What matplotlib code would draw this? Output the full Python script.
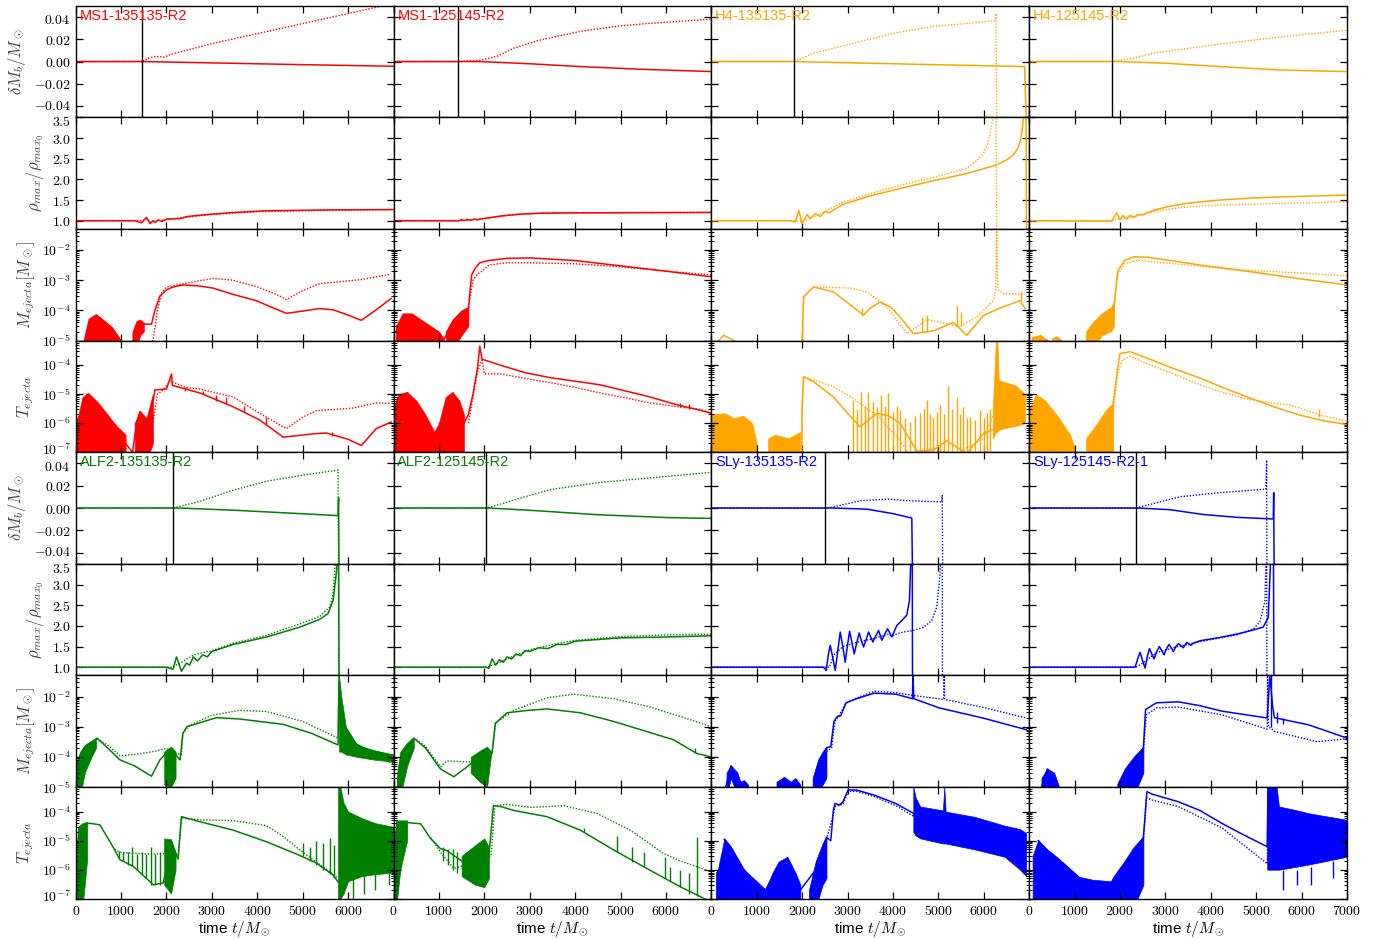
"""Baryon mass, max density and ejecta diagnostics for 8 BNS runs (4x2 grid of 4-row stacks)."""

import numpy as np
import matplotlib
matplotlib.use("Agg")
import matplotlib.pyplot as plt
from matplotlib.transforms import ScaledTranslation
from matplotlib.ticker import FixedLocator, FuncFormatter, LogLocator, NullFormatter

plt.rcParams["font.family"] = ["Liberation Sans", "DejaVu Sans"]
plt.rcParams["mathtext.fontset"] = "cm"

# ---------------------------------------------------------------- data
# every curve is a list of (t, value);
# bands are (t, low, high) envelopes of the noisy parts; spikes are (t, low, high)

# ---- MS1-135135-R2
ms1_a_merge = 1470
ms1_a_dm_s = [(0, 0), (1470, 0), (3000, -0.0012), (5000, -0.0028), (7000, -0.0042)]
ms1_a_dm_d = [(0, 0), (1470, 0), (1600, 0.003), (1750, 0.0045), (1950, 0.004), (2100, 0.0065),
              (3000, 0.016), (4000, 0.025), (5000, 0.034), (6000, 0.043), (6770, 0.05), (7000, 0.052)]
ms1_a_rho_s = [(0, 1.0), (1300, 1.0), (1450, 0.95), (1560, 1.08), (1640, 0.93), (1700, 1.0), (1760, 0.96),
               (1820, 1.02), (1900, 0.98), (2000, 1.04), (2300, 1.05), (2450, 1.1), (2700, 1.13), (3000, 1.16),
               (3500, 1.2), (4200, 1.24), (5500, 1.26), (7000, 1.27)]
ms1_a_rho_d = [(0, 1.0), (1470, 1.0), (1560, 1.05), (1650, 0.95), (1800, 1.0), (2000, 1.03), (2400, 1.08),
               (3000, 1.15), (4000, 1.22), (5500, 1.25), (7000, 1.27)]
ms1_a_mej_s = [(150, 5e-6), (300, 5e-5), (450, 7e-5), (600, 4.5e-5), (800, 2.5e-5), (1000, 1e-5), (1100, 5e-6),
               (1250, 8e-6), (1340, 3e-5), (1420, 4e-5), (1500, 3.5e-5), (1670, 3.5e-5), (1745, 1e-4),
               (1855, 3e-4), (2000, 4.8e-4), (2145, 6e-4), (2365, 7e-4), (2700, 6.5e-4), (3025, 5.5e-4),
               (3465, 3.4e-4), (3980, 2.1e-4), (4300, 1.3e-4), (4640, 8e-5), (5000, 9.5e-5), (5375, 1.15e-4),
               (5665, 1.05e-4), (6000, 7e-5), (6290, 4.7e-5), (6600, 1e-4), (6950, 2.5e-4)]
ms1_a_mej_d = [(1600, 5e-6), (1700, 1e-5), (1750, 3e-5), (1800, 1e-4), (1900, 4e-4), (2000, 6e-4),
               (2440, 8e-4), (2700, 9.5e-4), (3030, 1.15e-3), (3465, 1e-3), (4000, 6e-4), (4400, 3.5e-4),
               (4640, 2.3e-4), (5000, 4.5e-4), (5375, 7.8e-4), (5665, 8.5e-4), (6290, 1.05e-3), (6950, 1.6e-3)]
ms1_a_mej_band = [[(200, 5e-6, 1.5e-5), (300, 5e-6, 5e-5), (450, 5e-6, 7.5e-5), (600, 5e-6, 5e-5),
                   (800, 5e-6, 2.8e-5), (950, 5e-6, 1.3e-5)],
                  [(1250, 5e-6, 2e-5), (1340, 5e-6, 4.5e-5), (1420, 1.5e-5, 5e-5), (1500, 2e-5, 4e-5)]]
ms1_a_tej_s = [(0, 1e-6), (100, 2e-6), (250, 1e-5), (500, 3e-6), (700, 1e-6), (900, 4e-7), (1100, 2e-7),
               (1250, 1e-7), (1340, 1e-6), (1415, 2.5e-6), (1500, 1.5e-6), (1635, 1.2e-6), (1745, 1.4e-5),
               (2000, 1.5e-5), (2112, 5e-5), (2130, 2e-5), (2735, 1.1e-5), (3465, 3.7e-6), (4050, 1.3e-6),
               (4570, 3.3e-7), (5300, 4.4e-7), (5520, 4.6e-7), (6000, 2.8e-7), (6290, 1.7e-7), (6620, 6.5e-7),
               (6950, 1.1e-6)]
ms1_a_tej_d = [(1600, 1e-7), (1700, 1e-6), (1800, 1e-5), (1930, 1.4e-5), (2075, 2.8e-5), (2440, 1.7e-5),
               (2735, 1.5e-5), (3465, 8e-6), (4050, 2.2e-6), (4640, 6.5e-7), (5000, 1.6e-6), (5300, 2.7e-6),
               (6100, 3.3e-6), (6620, 5e-6), (6950, 4.8e-6)]
ms1_a_tej_band = [[(20, 5e-8, 1e-6), (150, 5e-8, 8e-6), (280, 5e-8, 1.1e-5), (500, 5e-8, 5e-6),
                   (700, 5e-8, 2e-6), (900, 5e-8, 8e-7), (1100, 5e-8, 4e-7)],
                  [(1300, 5e-8, 1e-6), (1415, 5e-8, 2.6e-6), (1560, 5e-8, 1.5e-6), (1700, 2e-7, 1e-5)]]
ms1_a_tej_spk = [(2400, 1.3e-5, 1.7e-5), (2800, 1e-5, 1.3e-5), (3100, 6e-6, 9e-6), (3300, 4.5e-6, 8e-6),
                 (3700, 2.5e-6, 4e-6), (4200, 9e-7, 1.6e-6), (5650, 3.5e-7, 5e-7)]

# ---- MS1-125145-R2
ms1_b_merge = 1424
ms1_b_dm_s = [(0, 0), (1900, 0), (3000, -0.002), (4114, -0.0045), (5500, -0.007), (7000, -0.009)]
ms1_b_dm_d = [(0, 0), (1424, 0), (1900, 0.001), (2300, 0.005), (2650, 0.012), (3200, 0.019), (4114, 0.027),
              (5000, 0.032), (5580, 0.034), (7000, 0.038)]
ms1_b_rho_s = [(0, 1.0), (1350, 1.0), (1420, 0.99), (1500, 1.03), (1560, 1.0), (1630, 1.03), (1700, 1.01),
               (1780, 1.04), (1850, 1.02), (1950, 1.05), (2100, 1.07), (2400, 1.12), (2800, 1.16),
               (3200, 1.18), (4000, 1.19), (7000, 1.2)]
ms1_b_rho_d = [(0, 1.0), (1424, 1.0), (1600, 1.01), (1800, 1.03), (2000, 1.05), (2400, 1.11), (2800, 1.16),
               (3500, 1.19), (7000, 1.2)]
ms1_b_mej_s = [(50, 2e-5), (300, 7e-5), (700, 3e-5), (1100, 1e-5), (1300, 4e-5), (1500, 9e-5), (1650, 1.2e-4),
               (1720, 1.5e-3), (1800, 2.5e-3), (1900, 3.8e-3), (2100, 4.5e-3), (2500, 5.3e-3), (3000, 5.5e-3),
               (4000, 4.5e-3), (5000, 3e-3), (6000, 2e-3), (7000, 1.3e-3)]
ms1_b_mej_d = [(1650, 1.2e-4), (1750, 1e-3), (1850, 1.6e-3), (1950, 2e-3), (2100, 3.2e-3), (2500, 3.8e-3),
               (3000, 3.8e-3), (4000, 3.5e-3), (5000, 2.8e-3), (6000, 2e-3), (7000, 1.5e-3)]
ms1_b_mej_band = [[(50, 5e-6, 3e-5), (200, 5e-6, 8e-5), (400, 5e-6, 8e-5), (700, 5e-6, 4e-5),
                   (1000, 5e-6, 2e-5), (1100, 5e-6, 1.2e-5)],
                  [(1150, 5e-6, 2e-5), (1300, 5e-6, 5e-5), (1500, 1.5e-5, 1e-4), (1650, 3e-5, 1.3e-4)]]
ms1_b_tej_s = [(0, 1e-6), (300, 8e-6), (600, 2e-6), (900, 3e-7), (1100, 2e-6), (1300, 8e-6), (1550, 1e-6),
               (1650, 2e-6), (1750, 1e-5), (1850, 8e-5), (1900, 4.5e-4), (1950, 1.6e-4), (2350, 1e-4),
               (2900, 5.5e-5), (3450, 3.7e-5), (4000, 2.8e-5), (4550, 2.1e-5), (5100, 1.3e-5), (5650, 8e-6),
               (6200, 4.5e-6), (6750, 2.8e-6), (7000, 2.2e-6)]
ms1_b_tej_d = [(1650, 1e-6), (1750, 8e-6), (1850, 6e-5), (1950, 1.5e-4), (2000, 5e-5), (2350, 5e-5),
               (2900, 3.5e-5), (3450, 2.5e-5), (4000, 1.7e-5), (4550, 1.1e-5), (5100, 7.5e-6), (5650, 5e-6),
               (6200, 3.8e-6), (6750, 3e-6), (7000, 2.2e-6)]
ms1_b_tej_band = [[(0, 5e-8, 3e-6), (100, 5e-8, 1e-5), (300, 5e-8, 1.2e-5), (500, 5e-8, 6e-6),
                   (700, 5e-8, 2e-6), (900, 5e-8, 5e-7), (1000, 5e-8, 1e-6), (1150, 5e-8, 8e-6),
                   (1300, 5e-8, 1.2e-5), (1450, 5e-8, 6e-6), (1550, 5e-8, 2e-6)]]
ms1_b_tej_spk = [(6300, 3.5e-6, 5e-6), (6500, 3e-6, 4.5e-6)]

# ---- H4-135135-R2
h4_a_merge = 1811
h4_a_dm_s = [(0, 0), (1811, 0), (4000, -0.002), (6900, -0.0045), (6940, -0.06)]
h4_a_dm_d = [(0, 0), (1811, 0), (2000, 0.003), (2250, 0.0075), (2800, 0.013), (3424, 0.0195), (4100, 0.026),
             (4890, 0.0315), (5600, 0.034), (6248, 0.0366), (6270, 0.043), (6285, -0.06)]
h4_a_rho_s = [(0, 1.0), (1740, 1.0), (1850, 0.97), (1925, 1.25), (2000, 0.93), (2110, 1.15), (2180, 1.05),
              (2290, 1.17), (2400, 1.1), (2500, 1.22), (2600, 1.2), (2910, 1.4), (3500, 1.6), (4158, 1.78),
              (4900, 1.97), (5625, 2.14), (6285, 2.35), (6500, 2.47), (6651, 2.59), (6750, 2.75),
              (6800, 2.92), (6835, 3.11), (6860, 3.35), (6880, 3.6), (6930, 3.6), (6940, 0.7)]
h4_a_rho_d = [(0, 1.0), (1811, 1.0), (2000, 0.98), (2300, 1.12), (2910, 1.45), (3500, 1.65), (4158, 1.86),
              (4900, 2.05), (5625, 2.27), (5850, 2.45), (5992, 2.63), (6080, 2.85), (6138, 3.11), (6190, 3.4),
              (6211, 3.6), (6270, 3.6), (6285, 0.7)]
h4_a_mej_s = [(100, 8e-6), (270, 1.5e-5), (550, 9e-6), (1990, 5e-6), (2000, 1e-5), (2030, 2.8e-4),
              (2250, 6e-4), (2690, 4.1e-4), (3000, 1.8e-4), (3350, 7e-5), (3500, 1.2e-4), (3718, 1.9e-4),
              (3950, 1.3e-4), (4158, 6e-5), (4451, 1.7e-5), (4890, 2.1e-5), (5332, 4e-5), (5625, 1.5e-5),
              (5992, 6.8e-5), (6358, 1.2e-4), (6798, 2.1e-4), (6908, 1.15e-4)]
h4_a_mej_d = [(1990, 5e-6), (2010, 1e-5), (2040, 3e-4), (2250, 6e-4), (3058, 5.5e-4), (3424, 4.1e-4),
              (3865, 1.3e-4), (4305, 1.7e-5), (4745, 5e-5), (5185, 3.6e-5), (5478, 3e-5), (5845, 6e-5),
              (6211, 2.1e-4), (6260, 5e-4), (6285, 5e-2), (6310, 5e-4), (6432, 3.6e-4), (6908, 3.5e-4)]
h4_a_mej_spk = [(3320, 7e-5, 1.2e-4), (4650, 2e-5, 6e-5), (4750, 2e-5, 7e-5), (5400, 3e-5, 1.5e-4),
                (5500, 3e-5, 9e-5), (6830, 2e-4, 4e-4)]
h4_a_tej_s = [(1990, 1e-7), (2000, 4e-6), (2030, 4e-5), (2250, 2.7e-5), (2690, 8e-6), (3000, 2.2e-6),
              (3277, 7.5e-7), (3645, 2.2e-6), (3900, 1.8e-6), (4158, 1e-6), (4525, 1.1e-7), (4890, 1.2e-7),
              (5185, 2.5e-7), (5625, 9e-8), (5992, 4.4e-7), (6358, 7.6e-7), (6800, 1e-6), (6908, 1.5e-6)]
h4_a_tej_d = [(1990, 1e-7), (2010, 5e-6), (2040, 4e-5), (2690, 1.8e-5), (3130, 7e-6), (3718, 1.5e-6),
              (4158, 2.5e-7), (4350, 9e-8), (4700, 9e-8), (4890, 1.3e-7), (5050, 1.1e-7), (5400, 9e-8),
              (6000, 3e-7), (6211, 2e-6), (6285, 7e-4)]
h4_a_tej_band = [[(0, 5e-8, 2e-6), (300, 5e-8, 2.2e-6), (500, 5e-8, 1.5e-6), (700, 5e-8, 1.8e-6),
                  (900, 5e-8, 1e-6), (1000, 5e-8, 2e-7)],
                 [(1250, 5e-8, 3e-7), (1400, 5e-8, 4e-7), (1700, 5e-8, 3e-7), (1950, 5e-8, 5e-7)],
                 [(6200, 3e-7, 3e-6), (6270, 5e-7, 7e-4), (6300, 5e-7, 7e-4), (6330, 6e-7, 3e-5),
                  (6500, 7e-7, 2.5e-5), (6700, 8e-7, 2e-5), (6908, 1e-6, 1e-5)]]
h4_a_tej_spk = [(3130, 5e-8, 6.3e-6), (3200, 5e-8, 3e-6), (3300, 5e-8, 1.2e-5), (3380, 5e-8, 4e-6),
                (3450, 5e-8, 1.2e-5), (3550, 5e-8, 5.5e-6), (3640, 5e-8, 3.5e-6), (3740, 5e-8, 9.5e-6),
                (3820, 5e-8, 4e-6), (3900, 5e-8, 1.1e-5), (4000, 5e-8, 2.5e-6), (4080, 5e-8, 4e-6),
                (4150, 5e-8, 2.8e-6), (4260, 5e-8, 1.5e-6), (4370, 5e-8, 1.1e-6), (4480, 5e-8, 1.8e-6),
                (4600, 5e-8, 2.2e-6), (4680, 5e-8, 3e-6), (4750, 5e-8, 6.3e-6), (4820, 5e-8, 2e-6),
                (4890, 5e-8, 1.7e-6), (4960, 5e-8, 2.5e-6), (5040, 5e-8, 4.2e-6), (5130, 5e-8, 2e-6),
                (5220, 5e-8, 1.9e-5), (5300, 5e-8, 3e-6), (5400, 5e-8, 8.3e-6), (5470, 5e-8, 2e-6),
                (5540, 5e-8, 3.7e-6), (5620, 5e-8, 1.5e-6), (5700, 5e-8, 1.7e-6), (5800, 5e-8, 1.3e-6),
                (5920, 5e-8, 2.8e-6), (6000, 5e-8, 1.5e-6), (6060, 5e-8, 2.2e-6), (6140, 5e-8, 3e-6)]

# ---- H4-125145-R2
h4_b_merge = 1818
h4_b_dm_s = [(0, 0), (2000, 0), (3000, -0.0015), (4202, -0.0045), (5500, -0.0075), (7000, -0.009)]
h4_b_dm_d = [(0, 0), (1818, 0), (2300, 0.003), (2735, 0.0075), (4202, 0.0157), (5668, 0.0226), (7000, 0.028)]
h4_b_rho_s = [(0, 1.0), (1818, 0.99), (1928, 1.19), (2000, 1.02), (2070, 1.13), (2140, 1.04), (2230, 1.13),
              (2300, 1.08), (2400, 1.15), (2500, 1.14), (2735, 1.25), (3100, 1.35), (3468, 1.42), (4202, 1.5),
              (4900, 1.55), (5668, 1.58), (7000, 1.62)]
h4_b_rho_d = [(0, 1.0), (1818, 1.0), (2000, 1.05), (2300, 1.1), (2735, 1.22), (3200, 1.3), (3700, 1.35),
              (4202, 1.38), (5668, 1.42), (7000, 1.46)]
h4_b_mej_s = [(100, 8e-6), (250, 1.5e-5), (400, 9e-6), (1250, 8e-6), (1500, 3e-5), (1800, 8e-5),
              (1870, 1.5e-4), (1950, 2e-3), (2100, 4.5e-3), (2300, 6e-3), (2600, 5.8e-3), (3200, 4.3e-3),
              (3760, 3.2e-3), (4400, 2.4e-3), (5000, 1.8e-3), (6000, 1.1e-3), (7000, 7e-4)]
h4_b_mej_d = [(1870, 1.5e-4), (1950, 1.5e-3), (2100, 3.5e-3), (2400, 4.6e-3), (2800, 4e-3), (3760, 2.9e-3),
              (4400, 2.3e-3), (5500, 1.9e-3), (7000, 1.4e-3)]
h4_b_mej_band = [[(50, 5e-6, 1.3e-5), (200, 5e-6, 1.5e-5), (400, 5e-6, 1.1e-5)],
                 [(500, 5e-6, 1.2e-5), (600, 5e-6, 1.4e-5), (700, 5e-6, 1.1e-5)],
                 [(1250, 5e-6, 2e-5), (1400, 5e-6, 4e-5), (1600, 1.5e-5, 8e-5), (1800, 2e-5, 1.3e-4),
                  (1870, 3e-5, 2e-4)]]
h4_b_tej_s = [(1850, 5e-6), (1950, 8e-5), (2000, 2.5e-4), (2222, 2.9e-4), (2500, 2e-4), (3100, 8.5e-5),
              (3760, 3.6e-5), (4300, 1.6e-5), (4860, 7.4e-6), (5400, 3.6e-6), (5960, 1.9e-6), (6500, 1.2e-6),
              (7000, 9e-7)]
h4_b_tej_d = [(1850, 3e-6), (1950, 5e-5), (2050, 1.5e-4), (2222, 2e-4), (2500, 1.3e-4), (3100, 5.5e-5),
              (3760, 2.1e-5), (4300, 1.1e-5), (4860, 6.5e-6), (5300, 5e-6), (5740, 4.3e-6), (6400, 1.9e-6),
              (7000, 1.2e-6)]
h4_b_tej_band = [[(0, 5e-8, 3e-6), (150, 5e-8, 1e-5), (350, 5e-8, 6e-6), (600, 5e-8, 2e-6),
                  (900, 5e-8, 4e-7), (1000, 5e-8, 1.5e-7)],
                 [(1250, 5e-8, 3e-7), (1500, 5e-8, 1e-6), (1700, 5e-8, 3e-6), (1850, 5e-8, 5e-6)]]
h4_b_tej_spk = [(6380, 1.7e-6, 3e-6)]

# ---- ALF2-135135-R2
alf2_a_merge = 2134
alf2_a_dm_s = [(0, 0), (2300, 0), (3500, -0.002), (4700, -0.0045), (5778, -0.0068), (5790, 0.0095), (5800, -0.06)]
alf2_a_dm_d = [(0, 0), (2134, 0), (2295, 0.0015), (2736, 0.006), (3470, 0.016), (4203, 0.024), (4937, 0.029),
               (5778, 0.034), (5790, -0.06)]
alf2_a_rho_s = [(0, 1.0), (2000, 1.0), (2145, 0.95), (2220, 1.25), (2330, 0.9), (2440, 1.1), (2510, 1.05),
                (2590, 1.25), (2680, 1.15), (2800, 1.3), (2900, 1.25), (3000, 1.38), (3470, 1.55),
                (4203, 1.73), (4937, 1.97), (5377, 2.16), (5560, 2.3), (5670, 2.62), (5740, 3.27),
                (5765, 3.6), (5790, 3.6), (5800, 0.7)]
alf2_a_rho_d = [(0, 1.0), (2134, 1.0), (2300, 1.1), (2600, 1.3), (3000, 1.4), (3470, 1.58), (4203, 1.77),
                (4937, 2.05), (5377, 2.23), (5597, 2.46), (5670, 2.78), (5720, 3.6), (5790, 3.6), (5800, 0.7)]
alf2_a_mej_s = [(0, 5e-6), (50, 5e-5), (200, 2e-4), (471, 4.2e-4), (700, 2e-4), (975, 8e-5), (1300, 5e-5),
                (1670, 2.3e-5), (1855, 8e-5), (2075, 1.8e-4), (2200, 1.2e-4), (2300, 8e-5), (2360, 6e-4),
                (2450, 1e-3), (3100, 2e-3), (3615, 1.8e-3), (4570, 1.2e-3), (5200, 6e-4), (5778, 2.5e-4),
                (5800, 5e-2), (5830, 8e-4), (5960, 4e-4), (6400, 1.8e-4), (7000, 1.1e-4)]
alf2_a_mej_d = [(471, 4e-4), (700, 2.5e-4), (975, 1.1e-4), (1300, 1.2e-4), (1700, 1.5e-4), (2000, 1.9e-4),
                (2200, 1.3e-4), (2330, 1.2e-4), (2360, 6e-4), (2500, 1.1e-3), (3000, 2.4e-3), (3615, 3.5e-3),
                (4200, 3.2e-3), (5000, 1.5e-3), (5778, 4.2e-4), (5800, 3e-2), (5900, 3e-4), (6400, 1.3e-4),
                (7000, 6e-5)]
alf2_a_mej_band = [[(0, 5e-6, 1.5e-5), (30, 5e-6, 8e-5), (100, 5e-6, 1.5e-4), (200, 3e-5, 2.5e-4),
                    (350, 1e-4, 3.5e-4), (450, 2e-4, 4.2e-4)],
                   [(1950, 1.2e-5, 1.5e-4), (2100, 1e-5, 2.2e-4), (2200, 2e-5, 1.5e-4)],
                   [(5800, 1.5e-4, 5e-2), (5850, 1.5e-4, 1e-2), (5950, 1.2e-4, 1e-3), (6200, 1e-4, 2.5e-4),
                    (6600, 8e-5, 1.6e-4), (7000, 7e-5, 1.2e-4)]]
alf2_a_tej_s = [(20, 1e-7), (100, 3e-5), (300, 4e-5), (535, 3.5e-5), (860, 4.8e-6), (975, 2.2e-6),
                (1268, 1.3e-6), (1560, 5e-7), (1708, 3e-7), (1928, 3.5e-7), (2050, 3e-6), (2100, 1.05e-5),
                (2200, 4e-6), (2255, 2.3e-6), (2330, 6.7e-5), (2735, 4.5e-5), (3470, 2.3e-5), (4200, 9.2e-6),
                (4935, 3.1e-6), (5300, 1.7e-6), (5670, 6.5e-7), (5780, 3.8e-7)]
alf2_a_tej_d = [(860, 5e-6), (975, 4e-6), (1500, 3.5e-6), (1928, 3.5e-6), (2100, 8e-6), (2255, 2.5e-6),
                (2330, 6e-5), (2735, 5.2e-5), (3470, 4.9e-5), (4200, 3.3e-5), (4570, 1.4e-5), (4935, 4.8e-6),
                (5670, 7e-7), (5780, 5e-7)]
alf2_a_tej_band = [[(0, 5e-8, 5e-7), (50, 5e-8, 3e-5), (150, 5e-8, 4e-5), (250, 2e-6, 4.5e-5)],
                   [(1950, 3e-7, 1.2e-5), (2100, 1.5e-7, 1.1e-5), (2200, 1e-6, 3e-6)],
                   [(5780, 1e-7, 7e-4), (5830, 1e-7, 7e-4), (5900, 1.5e-7, 2e-4), (6000, 4e-7, 1e-4),
                    (6300, 6e-7, 6e-5), (6600, 7e-7, 4e-5), (7000, 8e-7, 3e-5)]]
alf2_a_tej_spk = [(950, 2.5e-6, 4.5e-6), (1050, 2e-6, 4e-6), (1150, 1.5e-6, 4e-6), (1250, 1.3e-6, 6e-6),
                  (1350, 1e-6, 3.5e-6), (1450, 7e-7, 4e-6), (1550, 5e-7, 3.5e-6), (1650, 3e-7, 6e-6),
                  (1750, 3e-7, 3.5e-6), (1850, 3e-7, 4e-6),
                  (5000, 3e-6, 8e-6), (5150, 2e-6, 6e-6), (5300, 1.5e-6, 1e-5), (5450, 1e-6, 8e-6),
                  (5600, 7e-7, 1.2e-5), (5700, 5e-7, 7e-6), (6100, 1e-7, 1e-6), (6350, 1.5e-7, 1e-6),
                  (6600, 2e-7, 1e-6), (6900, 3e-7, 1e-6)]

# ---- ALF2-125145-R2
alf2_b_merge = 2047
alf2_b_dm_s = [(0, 0), (2100, 0), (3000, -0.002), (4500, -0.006), (6000, -0.0085), (7000, -0.0093)]
alf2_b_dm_d = [(0, 0), (2047, 0), (2354, 0.0035), (2800, 0.009), (3454, 0.0165), (4554, 0.023),
               (5654, 0.027), (7000, 0.032)]
alf2_b_rho_s = [(0, 1.0), (2050, 1.0), (2100, 0.97), (2170, 1.2), (2250, 1.05), (2330, 1.18), (2420, 1.12),
                (2500, 1.25), (2600, 1.2), (2700, 1.32), (2800, 1.28), (2900, 1.4), (3000, 1.38), (3200, 1.47),
                (3400, 1.45), (3600, 1.55), (3800, 1.55), (4000, 1.63), (4500, 1.67), (5000, 1.71),
                (6000, 1.73), (7000, 1.76)]
alf2_b_rho_d = [(0, 1.0), (2047, 1.0), (2300, 1.1), (2600, 1.25), (3000, 1.42), (3500, 1.55), (4000, 1.65),
                (5000, 1.74), (6000, 1.78), (7000, 1.8)]
alf2_b_mej_s = [(80, 8e-6), (150, 8e-5), (300, 2.5e-4), (447, 4.2e-4), (700, 2e-4), (1034, 4e-5),
                (1327, 2.2e-5), (1620, 4.7e-5), (1914, 1.1e-4), (2100, 1.3e-4), (2170, 1.3e-4), (2244, 1.3e-3),
                (2500, 2.9e-3), (2970, 3.5e-3), (3380, 3.9e-3), (4114, 2.9e-3), (4847, 1.5e-3), (5580, 6.9e-4),
                (6166, 3.7e-4), (6680, 1.3e-4), (7000, 1e-4)]
alf2_b_mej_d = [(447, 4.2e-4), (700, 2.3e-4), (1034, 4.7e-5), (1180, 7.4e-5), (1500, 7e-5), (1800, 6.8e-5),
                (1914, 8.5e-5), (2170, 1.4e-4), (2244, 1.3e-3), (2647, 3.5e-3), (3380, 9.1e-3),
                (3967, 1.2e-2), (4847, 8.5e-3), (5580, 4.8e-3), (6313, 2.2e-3), (7000, 1e-3)]
alf2_b_mej_band = [[(80, 5e-6, 3e-5), (150, 5e-6, 1.5e-4), (300, 5e-5, 3e-4), (447, 2e-4, 4.2e-4)],
                   [(1700, 3e-5, 1e-4), (1900, 1.5e-5, 1.6e-4), (2060, 1e-5, 2.2e-4), (2150, 1.2e-4, 1.5e-4)]]
alf2_b_mej_spk = [(6630, 1.3e-4, 2e-4)]
alf2_b_tej_s = [(0, 1e-7), (80, 4e-5), (300, 4.2e-5), (600, 3.8e-5), (814, 1.2e-5), (1034, 5.3e-6),
                (1180, 4.5e-6), (1500, 2e-6), (1800, 1.5e-6), (2000, 1.5e-6), (2100, 3e-6), (2200, 1.6e-4),
                (2354, 1.5e-4), (2647, 1.1e-4), (3380, 6.7e-5), (4114, 2.3e-5), (4847, 4.8e-6),
                (5580, 1.1e-6), (6313, 2.6e-7), (6974, 8e-8)]
alf2_b_tej_d = [(814, 1.3e-5), (1034, 4e-6), (1327, 1.1e-6), (1600, 1.5e-6), (2000, 2e-6), (2150, 3e-6),
                (2230, 1.6e-4), (2500, 1.8e-4), (3014, 1.4e-4), (3747, 1.6e-4), (4480, 8.7e-5),
                (5214, 2.3e-5), (5947, 3.6e-6), (6313, 2e-6), (7000, 8.5e-7)]
alf2_b_tej_band = [[(0, 5e-8, 5e-6), (60, 5e-8, 5e-5), (150, 1e-6, 5e-5), (300, 1e-5, 5e-5)],
                   [(1500, 6e-7, 3e-6), (1800, 3e-7, 7e-6), (2000, 2.5e-7, 1.2e-5), (2100, 5e-7, 6e-6)]]
alf2_b_tej_spk = [(1100, 2e-6, 6e-6), (1200, 1.5e-6, 5e-6), (1300, 1e-6, 5e-6), (1400, 8e-7, 4e-6),
                  (4187, 2e-5, 2.8e-5), (4920, 4e-6, 1.5e-5), (5250, 1.8e-6, 6e-6), (5507, 1.2e-6, 4e-6),
                  (5984, 5e-7, 2.8e-6), (6094, 4e-7, 1.2e-6), (6300, 2.5e-7, 1e-6), (6500, 1.5e-7, 8e-7),
                  (6680, 1.2e-7, 1.3e-5)]

# ---- SLy-135135-R2
sly_a_merge = 2508
sly_a_dm_s = [(0, 0), (2700, 0), (3425, -0.001), (4000, -0.005), (4415, -0.009), (4430, -0.06)]
sly_a_dm_d = [(0, 0), (2508, 0), (2690, 0.001), (3277, 0.0065), (3865, 0.008), (4378, 0.0065), (5075, 0.0055),
              (5085, 0.0117), (5095, -0.06)]
sly_a_rho_s = [(0, 1.0), (2472, 1.0), (2530, 0.92), (2575, 1.3), (2618, 1.53), (2670, 1.25), (2728, 0.92),
               (2785, 1.4), (2838, 1.85), (2895, 1.5), (2948, 1.12), (2995, 1.5), (3044, 1.87), (3095, 1.6),
               (3146, 1.32), (3200, 1.58), (3256, 1.83), (3300, 1.66), (3352, 1.49), (3410, 1.67),
               (3462, 1.85), (3510, 1.73), (3557, 1.61), (3620, 1.75), (3682, 1.89), (3720, 1.77),
               (3755, 1.65), (3820, 1.8), (3880, 1.93), (3930, 1.83), (3975, 1.73), (4085, 2.01), (4195, 2.13),
               (4305, 2.26), (4363, 2.62), (4393, 3.6), (4425, 3.6), (4430, 0.7)]
sly_a_rho_d = [(0, 1.0), (2508, 1.0), (2600, 1.0), (2700, 1.3), (2900, 1.5), (3200, 1.6), (3600, 1.7),
               (3880, 1.8), (3975, 1.75), (4085, 1.81), (4231, 1.85), (4451, 1.89), (4671, 1.96),
               (4855, 2.13), (4965, 2.46), (5023, 3.1), (5053, 3.6), (5085, 3.6), (5090, 0.7)]
sly_a_mej_s = [(300, 8e-6), (430, 5e-5), (575, 2e-5), (650, 8e-6), (2230, 8e-6), (2535, 2e-4), (2630, 2.2e-4),
               (2700, 1.5e-3), (2774, 2.2e-3), (2850, 2.3e-3), (2965, 6.2e-3), (3200, 8.5e-3), (3587, 1.3e-2),
               (4065, 1.2e-2), (4428, 8.5e-3), (4440, 5e-2), (4460, 8.5e-3), (5020, 4.2e-3), (5978, 1.95e-3),
               (6934, 8e-4)]
sly_a_mej_d = [(2535, 1.5e-4), (2650, 2e-4), (2720, 1.5e-3), (2800, 2.2e-3), (2965, 6e-3), (3200, 9e-3),
               (3587, 1.5e-2), (4065, 1.35e-2), (4428, 1.1e-2), (5117, 8e-3), (5125, 5e-2), (5140, 8e-3),
               (5978, 4.4e-3), (6934, 1.95e-3)]
sly_a_mej_band = [[(335, 5e-6, 3e-5), (430, 2e-5, 5.3e-5), (575, 5e-6, 3e-5), (650, 5e-6, 1.3e-5)],
                  [(620, 5e-6, 1.5e-5), (720, 5e-6, 1.7e-5), (810, 5e-6, 1.2e-5)],
                  [(1435, 5e-6, 1.5e-5), (1600, 5e-6, 2.2e-5), (1750, 5e-6, 1.5e-5), (1850, 5e-6, 2e-5),
                   (1960, 5e-6, 1.2e-5)],
                  [(2230, 5e-6, 2e-5), (2350, 5e-6, 8e-5), (2450, 1.2e-5, 1.5e-4), (2535, 2e-5, 2.2e-4)]]
sly_a_tej_s = [(287, 1.1e-5), (430, 6e-6), (717, 1e-6), (1000, 3e-7), (1196, 2e-7), (1483, 1.5e-6),
               (1674, 2e-6), (1961, 2e-7), (2300, 1e-6), (2535, 1.3e-5), (2630, 1e-5), (2690, 1.2e-4),
               (2726, 1.9e-4), (2822, 1.7e-4), (2900, 2.2e-4), (3013, 5.6e-4), (3204, 5.5e-4), (3587, 3.7e-4),
               (4065, 1.9e-4), (4448, 8.8e-5), (4540, 5e-5), (5500, 2.3e-5), (6456, 1e-5), (6934, 5e-6)]
sly_a_tej_d = [(2535, 1.1e-5), (2690, 8e-5), (2726, 1.5e-4), (2900, 1.8e-4), (3013, 5e-4), (3204, 5e-4),
               (3587, 3.3e-4), (4065, 1.6e-4), (4448, 7e-5), (5100, 4e-5), (6000, 2e-5), (6934, 8e-6)]
sly_a_tej_band = [[(100, 5e-8, 8e-7), (143, 5e-8, 1e-6), (287, 5e-8, 1.2e-5), (430, 5e-8, 6e-6),
                   (717, 5e-8, 1e-6), (1000, 5e-8, 4e-7), (1196, 5e-8, 2e-7), (1350, 5e-8, 8e-7),
                   (1483, 5e-8, 1.9e-6), (1674, 5e-8, 2.8e-6), (1850, 5e-8, 8e-7), (1961, 5e-8, 3e-7)],
                  [(2150, 5e-8, 2e-7), (2300, 5e-8, 2e-6), (2450, 3e-7, 8e-6), (2535, 5e-7, 1.4e-5)],
                  [(4448, 2e-5, 7e-4), (4500, 1.5e-5, 3e-4), (4600, 1.2e-5, 1.5e-4), (5100, 8e-6, 1.1e-4),
                   (5130, 8e-6, 7e-4), (5160, 8e-6, 1e-4), (5800, 5e-6, 6.6e-5), (6456, 2.8e-6, 3.3e-5),
                   (6800, 1e-6, 2.5e-5), (6934, 6e-7, 1.8e-5)]]

# ---- SLy-125145-R2-1
sly_b_merge = 2354
sly_b_dm_s = [(0, 0), (2400, 0), (3102, -0.0015), (3835, -0.0058), (4568, -0.0083), (5375, -0.0098),
              (5385, 0.0138), (5395, -0.06)]
sly_b_dm_d = [(0, 0), (2354, 0), (2735, 0.004), (3322, 0.0101), (4202, 0.0138), (5214, 0.0169),
              (5229, 0.043), (5236, -0.06)]
sly_b_rho_s = [(0, 1.0), (2332, 1.0), (2390, 1.2), (2442, 1.36), (2500, 1.15), (2552, 0.98), (2600, 1.25),
               (2647, 1.45), (2700, 1.32), (2750, 1.2), (2810, 1.38), (2867, 1.5), (2920, 1.4), (2970, 1.3),
               (3025, 1.45), (3080, 1.55), (3130, 1.47), (3175, 1.38), (3230, 1.5), (3290, 1.57),
               (3340, 1.52), (3395, 1.47), (3470, 1.6), (3560, 1.53), (3615, 1.58), (3762, 1.64), (4202, 1.72),
               (4568, 1.8), (4935, 1.9), (5155, 1.97), (5265, 2.2), (5317, 3.6), (5380, 3.6), (5390, 0.7)]
sly_b_rho_d = [(0, 1.0), (2354, 1.0), (2500, 1.1), (2800, 1.35), (3200, 1.48), (3762, 1.62), (4568, 1.78),
               (4935, 1.92), (5082, 2.1), (5192, 2.6), (5214, 3.6), (5230, 3.6), (5236, 0.7)]
sly_b_mej_s = [(250, 8e-6), (400, 4e-5), (650, 8e-6), (1940, 8e-6), (2515, 2e-4), (2563, 3.7e-3),
               (2802, 6.2e-3), (3280, 6.7e-3), (3759, 5e-3), (4237, 3.3e-3), (5242, 1.95e-3), (5300, 5e-2),
               (5360, 5e-3), (5400, 2e-3), (6150, 1.16e-3), (7000, 4.2e-4)]
sly_b_mej_d = [(2515, 1.5e-4), (2580, 2.5e-3), (2802, 4.2e-3), (3280, 4.5e-3), (4237, 2.5e-3),
               (5242, 8.3e-4), (5250, 5e-2), (5270, 1e-3), (5400, 7e-4), (6342, 3.2e-4), (7000, 4e-4)]
sly_b_mej_band = [[(270, 5e-6, 2e-5), (400, 5e-6, 4.1e-5), (550, 5e-6, 3e-5), (650, 5e-6, 1.1e-5)],
                  [(1940, 5e-6, 1.3e-5), (2100, 5e-6, 4e-5), (2300, 5e-6, 1e-4), (2515, 3e-5, 2.2e-4)]]
sly_b_mej_spk = [(5320, 1e-3, 5e-2), (5450, 1.3e-3, 3e-3), (5600, 1.2e-3, 2e-3)]
sly_b_tej_s = [(200, 1e-5), (400, 3e-6), (800, 5e-7), (1500, 2e-7), (1850, 3e-7), (2300, 4e-6), (2515, 1.3e-5),
               (2560, 1e-4), (2592, 4.9e-4), (2707, 4e-4), (3280, 2.2e-4), (3759, 1.1e-4), (4237, 4e-5),
               (4716, 1.6e-5), (5242, 6.2e-6), (5260, 7e-4), (5400, 3e-5), (6000, 1.5e-5), (7000, 1.4e-5)]
sly_b_tej_d = [(2515, 1e-5), (2580, 3e-4), (2707, 2.5e-4), (3280, 1.5e-4), (4237, 2.8e-5), (5242, 1.6e-6),
               (5260, 4e-4), (5400, 1.5e-5), (6000, 1e-5), (7000, 1.1e-5)]
sly_b_tej_band = [[(75, 5e-8, 3e-6), (200, 5e-8, 1.05e-5), (400, 5e-8, 5e-6), (600, 5e-8, 2.8e-6),
                   (800, 5e-8, 1.5e-6), (1100, 5e-8, 5.7e-7), (1400, 5e-8, 4.5e-7), (1800, 5e-8, 4e-7),
                   (1850, 5e-8, 5.7e-7), (2100, 5e-8, 2e-6), (2300, 5e-8, 6e-6), (2515, 3e-7, 1.4e-5)],
                  [(5242, 1e-6, 7e-4), (5450, 1e-6, 7e-4), (5500, 1e-6, 1.5e-4), (5800, 1.2e-6, 1.2e-4),
                   (6150, 1.5e-6, 8.8e-5), (7000, 2.8e-6, 5.2e-5)]]
sly_b_tej_spk = [(5600, 2e-7, 1e-6), (5900, 3e-7, 1e-6), (6200, 3e-7, 1.2e-6), (6700, 5e-7, 2e-6)]

run_names = ["MS1-135135-R2", "MS1-125145-R2", "H4-135135-R2", "H4-125145-R2",
             "ALF2-135135-R2", "ALF2-125145-R2", "SLy-135135-R2", "SLy-125145-R2-1"]
run_colors = ["#ff0000", "#ff0000", "#ffa500", "#ffa500", "#008000", "#008000", "#0000ff", "#0000ff"]

ylabels = [r"$\delta M_b/M_\odot$", r"$\rho_{max}/\rho_{max_0}$", r"$M_{ejecta}[M_\odot]$", r"$T_{ejecta}$"]
dm_ticks = [-0.04, -0.02, 0.0, 0.02, 0.04]
rho_ticks = [1.0, 1.5, 2.0, 2.5, 3.0, 3.5]
time_ticks = [0, 1000, 2000, 3000, 4000, 5000, 6000, 7000]

# ---------------------------------------------------------------- assemble
runs = []
for prefix in ["ms1_a", "ms1_b", "h4_a", "h4_b", "alf2_a", "alf2_b", "sly_a", "sly_b"]:
    g = globals()
    runs.append({
        "merge": g[prefix + "_merge"],
        "dm": (g[prefix + "_dm_s"], g[prefix + "_dm_d"], [], []),
        "rho": (g[prefix + "_rho_s"], g[prefix + "_rho_d"], [], []),
        "mej": (g[prefix + "_mej_s"], g[prefix + "_mej_d"], g.get(prefix + "_mej_band", []),
                g.get(prefix + "_mej_spk", [])),
        "tej": (g[prefix + "_tej_s"], g[prefix + "_tej_d"], g.get(prefix + "_tej_band", []),
                g.get(prefix + "_tej_spk", [])),
    })


def draw_curves(ax, color, solid, dotted, bands, spikes):
    for band in bands:
        t, lo, hi = zip(*band)
        ax.fill_between(t, lo, hi, color=color, lw=0.5, edgecolor=color)
    if spikes:
        t, lo, hi = zip(*spikes)
        ax.vlines(t, lo, hi, color=color, lw=1.0)
    t, v = zip(*dotted)
    ax.plot(t, v, color=color, lw=1.0, ls=(0, (1, 1.2)))
    t, v = zip(*solid)
    ax.plot(t, v, color=color, lw=1.1, solid_joinstyle="round")


def cm_fmt(fmt):
    return FuncFormatter(lambda v, pos: "$" + (fmt % v) + "$")


def pow_fmt(v, pos):
    return r"$10^{%d}$" % int(round(np.log10(v)))


fig = plt.figure(figsize=(13.81, 9.39), dpi=100)
gs = fig.add_gridspec(8, 4, left=0.0548, right=0.9754, top=0.9939, bottom=0.0429, hspace=0, wspace=0)
left_axes = []

for i, run in enumerate(runs):
    col = i % 4
    row0 = 0 if i < 4 else 4
    color = run_colors[i]
    for k, key in enumerate(["dm", "rho", "mej", "tej"]):
        ax = fig.add_subplot(gs[row0 + k, col])
        solid, dotted, bands, spikes = run[key]
        draw_curves(ax, color, solid, dotted, bands, spikes)
        ax.set_xlim(0, 7000)
        ax.xaxis.set_major_locator(FixedLocator(time_ticks))
        if key == "dm":
            ax.set_ylim(-0.05, 0.05)
            ax.yaxis.set_major_locator(FixedLocator(dm_ticks))
            ax.yaxis.set_major_formatter(cm_fmt("%.2f"))
            ax.axvline(run["merge"], color="k", lw=1.0)
            ax.text(0.012, 0.975, run_names[i], transform=ax.transAxes, ha="left", va="top",
                    color=color, fontsize=10.5)
        elif key == "rho":
            ax.set_ylim(0.8, 3.5)
            ax.yaxis.set_major_locator(FixedLocator(rho_ticks))
            ax.yaxis.set_major_formatter(cm_fmt("%.1f"))
        else:
            ax.set_yscale("log")
            if key == "mej":
                ax.set_ylim(1e-5, 5e-2)
            else:
                ax.set_ylim(1e-7, 7e-4)
            ax.yaxis.set_major_locator(LogLocator(base=10, numticks=12))
            ax.yaxis.set_minor_locator(LogLocator(base=10, subs=np.arange(2, 10), numticks=12))
            ax.yaxis.set_major_formatter(FuncFormatter(pow_fmt))
            ax.yaxis.set_minor_formatter(NullFormatter())
        ax.tick_params(which="both", direction="in", top=True, right=True, labelsize=10)
        ax.tick_params(which="major", length=5, width=0.9)
        ax.tick_params(which="minor", length=2.5, width=0.7)
        for sp in ax.spines.values():
            sp.set_linewidth(1.0)
        if col == 0:
            ax.set_ylabel(ylabels[k], fontsize=12, color="#444444")
            left_axes.append(ax)
        else:
            ax.tick_params(labelleft=False)
        if row0 + k == 7:
            labels = ["$%d$" % t for t in time_ticks]
            if col < 3:
                labels[-1] = ""
            ax.set_xticklabels(labels)
            ax.set_xlabel(r"time $t/M_\odot$", fontsize=11, labelpad=1)
        else:
            ax.tick_params(labelbottom=False)

# pull the tick labels that sit on a panel border slightly apart
fig.canvas.draw()
nudge = {"$3.5$": -2.5, "$-0.04$": 1.5, "$0.04$": -1.5, "$10^{-7}$": 2.5}
for ax in left_axes:
    for lbl in ax.get_yticklabels():
        dy = nudge.get(lbl.get_text())
        if dy:
            lbl.set_transform(lbl.get_transform() + ScaledTranslation(0, dy / 72, fig.dpi_scale_trans))

fig.savefig("out.png", dpi=100)
